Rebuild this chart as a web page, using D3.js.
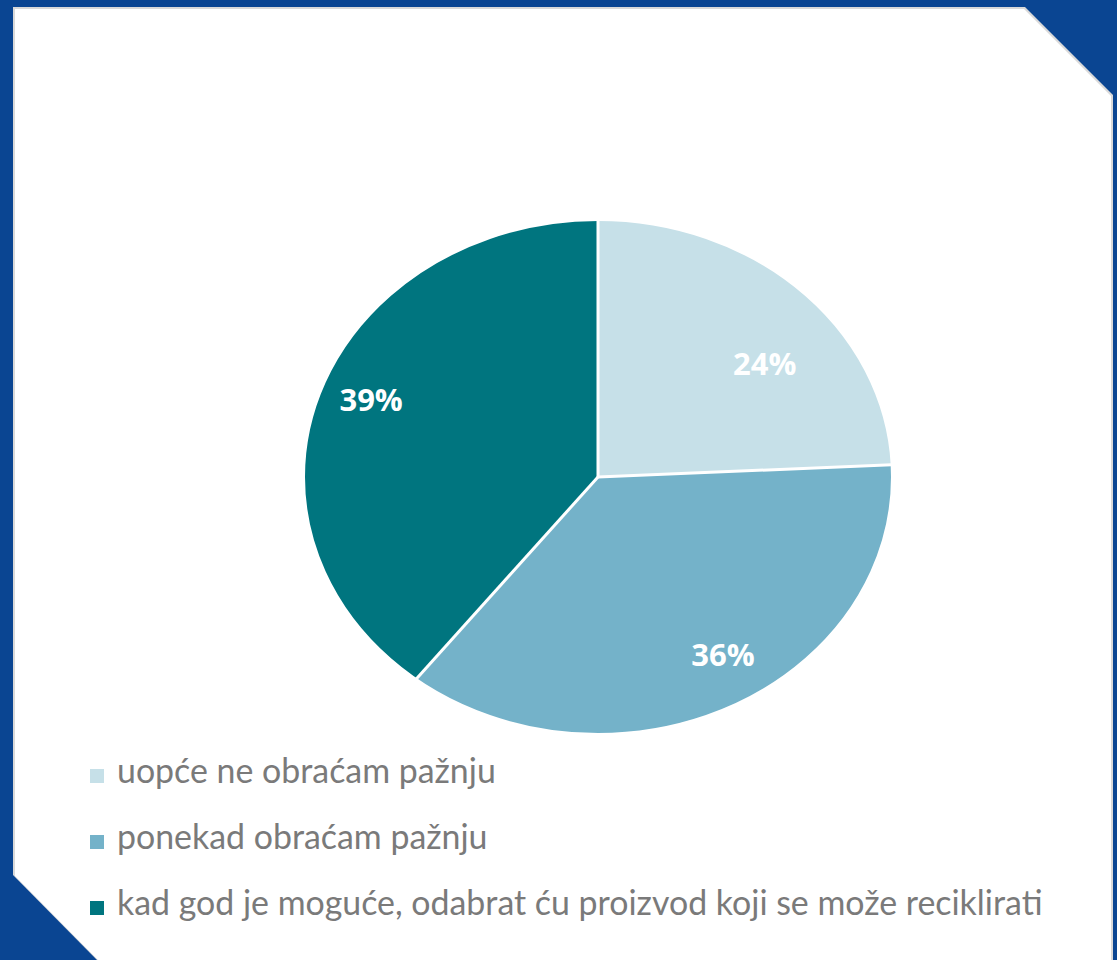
<!DOCTYPE html>
<html><head><meta charset="utf-8">
<script src="https://cdn.jsdelivr.net/npm/d3@7"></script>
<style>html,body{margin:0;padding:0;background:#0a4592;}svg{display:block;}</style>
</head><body>
<svg id="chart" width="1117" height="960"></svg>
<script>
const categories = ["uopće ne obraćam pažnju", "ponekad obraćam pažnju", "kad god je moguće, odabrat ću proizvod koji se može reciklirati"];
const values = [24, 36, 39];
const labels = ["24%", "36%", "39%"];
const colors = ["#c6e0e8", "#74b2c9", "#00757f"];

const svg = d3.select("#chart");
// frame
svg.append("rect").attr("width", 1117).attr("height", 960).attr("fill", "#0a4592");
const panel = [[13,7],[1025,7],[1113,95],[1113,960],[97,960],[13,875]];
svg.append("polygon").attr("points", panel.map(p => p.join(",")).join(" "))
  .attr("fill", "#d9d9d9");
const panelInner = [[15,9],[1024,9],[1111,96],[1111,960],[98,960],[15,876]];
svg.append("polygon").attr("points", panelInner.map(p => p.join(",")).join(" "))
  .attr("fill", "#ffffff");

// pie (elliptical)
const cx = 598, cy = 477, rx = 294, ry = 257;
const pie = d3.pie().sort(null).value(d => d)(values);
const arc = d3.arc().innerRadius(0).outerRadius(1);
const g = svg.append("g").attr("transform", `translate(${cx},${cy})`);
const slices = g.append("g").attr("transform", `scale(${rx},${ry})`);
slices.selectAll("path").data(pie).join("path")
  .attr("d", arc).attr("fill", (d, i) => colors[i]);
g.selectAll("line.sep").data(pie).join("line")
  .attr("x1", 0).attr("y1", 0)
  .attr("x2", d => rx * Math.sin(d.startAngle))
  .attr("y2", d => -ry * Math.cos(d.startAngle))
  .attr("stroke", "#fff").attr("stroke-width", 3);
g.append("ellipse").attr("rx", rx).attr("ry", ry).attr("fill", "none")
  .attr("stroke", "#fff").attr("stroke-width", 2);

// labels (best-fit style placement)
const labelRadius = [0.72, 0.81, 0.83];
const labelShiftDeg = [8.3, -4.4, 2.5];
const pos = (d, i) => {
  const a = (d.startAngle + d.endAngle) / 2 + labelShiftDeg[i] * Math.PI / 180;
  return [rx * labelRadius[i] * Math.sin(a), -ry * labelRadius[i] * Math.cos(a)];
};
g.selectAll("text.lbl").data(pie).join("text")
  .attr("x", (d, i) => pos(d, i)[0])
  .attr("y", (d, i) => pos(d, i)[1])
  .attr("text-anchor", "middle").attr("dominant-baseline", "central")
  .attr("font-family", "Open Sans, sans-serif").attr("font-weight", "bold")
  .attr("font-size", 31).attr("fill", "#fff")
  .text((d, i) => labels[i]);

// legend
const leg = svg.append("g");
const baselines = [783, 849, 915];
categories.forEach((c, i) => {
  leg.append("rect").attr("x", 90).attr("y", baselines[i] - 14).attr("width", 14).attr("height", 14)
    .attr("fill", colors[i]);
  leg.append("text").attr("x", 117).attr("y", baselines[i])
    .attr("font-family", "Lato, sans-serif").attr("font-size", 28).attr("fill", "#7a7a7a")
    .text(c);
});
const t3 = leg.selectAll("text").nodes()[2];
const w = t3.getComputedTextLength();
const fs = 28 * 926 / w;
leg.selectAll("text").attr("font-size", fs);
</script>
</body></html>
